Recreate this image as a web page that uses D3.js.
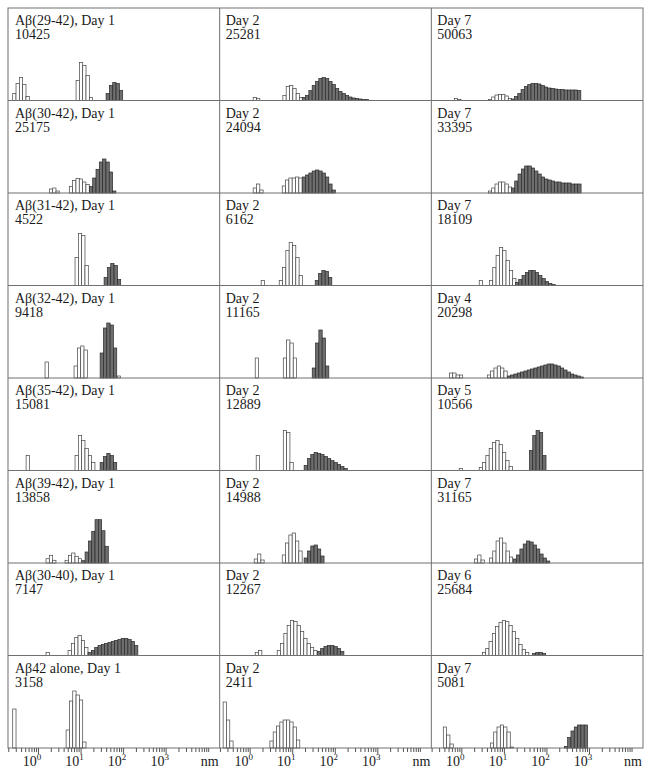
<!DOCTYPE html>
<html>
<head>
<meta charset="utf-8">
<script src="https://cdn.jsdelivr.net/npm/d3@7"></script>
<style>
body { margin: 0; background: #fff; }
svg text { font-family: "Liberation Serif", "Times New Roman", serif; fill: #1a1a1a; }
</style>
</head>
<body>
<div id="chart"></div>
<script>
// row names (first column only)
var peptides = ["Aβ(29-42)", "Aβ(30-42)", "Aβ(31-42)", "Aβ(32-42)", "Aβ(35-42)", "Aβ(39-42)", "Aβ(30-40)", "Aβ42 alone"];
var days = [[1, 2, 7], [1, 2, 7], [1, 2, 7], [1, 2, 4], [1, 2, 5], [1, 2, 7], [1, 2, 6], [1, 2, 7]];
var counts = [
	[10425, 25281, 50063],
	[25175, 24094, 33395],
	[4522, 6162, 18109],
	[9418, 11165, 20298],
	[15081, 12889, 10566],
	[13858, 14988, 31165],
	[7147, 12267, 25684],
	[3158, 2411, 5081]
];

// open bars, per panel: [log10 of first bin edge (nm), heights]
var lightBars = [
	[[[-0.595, [7, 17, 23, 16, 4]], [0.894, [20, 38, 35, 25, 3]]],
	 [[0.082, [3, 2]], [0.78, [5, 14, 15, 12, 7, 3]]],
	 [[-0.165, [2, 1]], [0.635, [1, 3.5, 5.5, 6, 6, 4.5, 2]]]],
	[[[0.266, [4, 5, 2]], [0.736, [6.5, 12.5, 14.5, 14, 11, 8.5]]],
	 [[0.082, [5, 9, 3]], [0.765, [7, 13, 15, 15, 16, 15]]],
	 [[0.635, [2, 5, 9, 11, 11, 9, 6]]]],
	[[[0.87, [28, 52, 50, 20]]],
	 [[0.27, [5]], [0.694, [5, 18, 35, 43, 40, 28, 10]]],
	 [[0.42, [5]], [0.66, [5, 18, 30, 38, 35, 25, 15, 7]]]],
	[[[0.165, [16]], [0.847, [12, 30, 32, 28]], [1.86, [2]]],
	 [[0.13, [20]], [0.79, [20, 38, 35, 20]]],
	 [[-0.28, [5, 5, 3, 3]], [0.61, [3, 7, 10, 12, 10, 7]]]],
	[[[-0.28, [15]], [0.87, [15, 35, 30, 22, 15, 8]]],
	 [[0.153, [15]], [0.79, [40, 38, 8]]],
	 [[-0.05, [2]], [0.42, [3, 8, 15, 22, 28, 30, 26, 18, 10, 4]]]],
	[[[0.188, [4.3, 7.7, 2.7]], [0.635, [2.7, 7.7, 10, 6.7, 4.3]]],
	 [[0.106, [4, 9, 3]], [0.765, [8, 20, 28, 30, 22, 12]]],
	 [[0.306, [4, 8, 3]], [0.66, [5, 12, 22, 25, 20, 12, 6]]]],
	[[[0.188, [3]], [0.706, [5, 12, 18, 20, 15, 8]]],
	 [[0.13, [3, 5]], [0.647, [5, 12, 22, 30, 35, 34, 30, 24, 17, 12, 8, 5]]],
	 [[0.494, [3, 7, 14, 22, 29, 33, 35, 34, 30, 24, 17, 11, 6, 3]]]],
	[[[-0.595, [39]], [0.66, [18, 47, 57, 53, 48, 6]]],
	 [[-0.624, [46, 28, 7]], [0.475, [7, 16, 22, 26, 28, 28, 26, 21, 8]]],
	 [[-0.424, [21, 13, 4]], [0.682, [5, 16, 21, 23, 21, 16, 1]]]]
];

// filled bars, same layout
var darkBars = [
	[[[1.6, [7, 15, 18, 17, 10]]],
	 [[1.235, [3, 5, 10, 15, 19, 22, 23, 22, 19, 16, 12, 9, 7, 5, 3.5, 2.5, 2, 1.5, 1, 1]]],
	 [[1.17, [1.5, 4, 7, 11, 14, 16, 17, 17, 16.5, 15, 13.5, 12.5, 12, 11.5, 11, 11, 10.5, 10.5, 10.5, 10.5, 10]]]],
	[[[1.207, [6.5, 15, 23.5, 31, 34, 31, 21, 2]]],
	 [[1.235, [16, 18, 20, 22, 23, 22, 20, 16, 9, 3]]],
	 [[1.176, [5, 12, 19, 24, 27, 27, 25, 22, 19, 16, 14, 13, 12, 11, 11, 10, 10, 10, 9, 9, 9]]]],
	[[[1.553, [8, 18, 22, 20, 6]]],
	 [[1.54, [5, 12, 15, 14, 8]]],
	 [[1.27, [3, 6, 10, 13, 15, 15, 13, 10, 7, 4, 2, 1]]]],
	[[[1.46, [25, 50, 55, 53, 30]]],
	 [[1.47, [10, 35, 48, 40, 12]]],
	 [[1.08, [2, 3, 4, 5, 6, 7, 8, 9, 10, 11, 12, 13, 14, 14, 13, 12, 10, 8, 6, 4, 3, 2, 1]]]],
	[[[1.46, [8, 14, 17, 15, 8]]],
	 [[1.28, [5, 12, 16, 18, 17, 16, 14, 12, 10, 8, 6, 4, 2]]],
	 [[1.6, [20, 35, 40, 38, 15]]]],
	[[[1.028, [2.3, 11, 22, 31.7, 43.3, 43.3, 32.3, 16.7]]],
	 [[1.28, [5, 12, 17, 18, 14, 7]]],
	 [[1.22, [4, 8, 14, 19, 22, 21, 18, 14, 9, 5, 2]]]],
	[[[1.176, [3, 5, 8, 10, 11, 12, 13, 14, 15, 16, 17, 17, 16, 14, 10]]],
	 [[1.59, [4, 7, 9, 10, 10, 9, 7, 4]]],
	 [[1.67, [2, 3, 3, 2]]]],
	[[],
	 [],
	 [[2.42, [1.5, 10.5, 17, 21, 23, 23, 23]]]]
];

var tickDecades = [1, 10, 100, 1000];
var binWidth = 0.078; // log10 nm per bar

var width = 649, height = 770;
var padL = 8, padR = 643, padT = 8, padB = 748;
var nRows = peptides.length, nCols = 3;
var colW = (padR - padL) / nCols;
var rowH = (padB - padT) / nRows;

var svg = d3.select("#chart")
	.append("svg")
	.attr("width", width)
	.attr("height", height);

var x = d3.scaleLog().domain([0.197, 18600]).range([0, colW]);
var y = d3.scaleLinear().domain([0, 92.5]).range([rowH, 0]);

function drawBars(g, clusters, fill, stroke) {
	var bars = [];
	clusters.forEach(function(cl) {
		cl[1].forEach(function(h, i) {
			bars.push({ a: Math.pow(10, cl[0] + i * binWidth), b: Math.pow(10, cl[0] + (i + 1) * binWidth), h: h });
		});
	});
	g.append("g").selectAll("rect")
		.data(bars)
		.enter()
		.append("rect")
		.attr("x", function(d) { return x(d.a); })
		.attr("y", function(d) { return y(d.h); })
		.attr("width", function(d) { return x(d.b) - x(d.a); })
		.attr("height", function(d) { return y(0) - y(d.h); })
		.attr("fill", fill)
		.attr("stroke", stroke)
		.attr("stroke-width", 0.7);
}

//panels
for (var r = 0; r < nRows; r++) {
	for (var c = 0; c < nCols; c++) {
		var g = svg.append("g")
			.attr("transform", "translate(" + (padL + c * colW) + "," + (padT + r * rowH) + ")");

		var title = (c == 0 ? peptides[r] + ", " : "") + "Day " + days[r][c];
		var tx = c == 0 ? 7 : 6;
		var label = g.append("text").attr("font-size", 14);
		label.append("tspan").attr("x", tx).attr("y", 17).text(title);
		label.append("tspan").attr("x", tx).attr("y", 31).text(counts[r][c]);

		drawBars(g, lightBars[r][c], "#fff", "#444");
		drawBars(g, darkBars[r][c], "#6e6e6e", "#2a2a2a");
	}
}

//frame lines
var frame = svg.append("g").attr("stroke", "#707070").attr("stroke-width", 1).attr("fill", "none");
frame.append("rect").attr("x", padL).attr("y", padT).attr("width", padR - padL).attr("height", padB - padT);
for (var i = 1; i < nCols; i++) {
	frame.append("line").attr("x1", padL + i * colW).attr("x2", padL + i * colW).attr("y1", padT).attr("y2", padB);
}
for (var j = 1; j < nRows; j++) {
	frame.append("line").attr("x1", padL).attr("x2", padR).attr("y1", padT + j * rowH).attr("y2", padT + j * rowH);
}

//bottom axes
var minorTicks = [];
[0.1, 1, 10, 100, 1000].forEach(function(dec) {
	for (var k = 1; k <= 9; k++) {
		if (k * dec >= 0.2) minorTicks.push(k * dec);
	}
});
minorTicks.push(10000);

for (var c = 0; c < nCols; c++) {
	var ax = svg.append("g")
		.attr("transform", "translate(" + (padL + c * colW) + "," + padB + ")");

	ax.call(d3.axisBottom(x).tickValues(minorTicks).tickSize(4).tickSizeOuter(0).tickFormat(""));
	ax.select(".domain").remove();
	ax.selectAll(".tick line")
		.attr("stroke", "#555")
		.attr("y2", function(d) { return tickDecades.indexOf(d) >= 0 ? 6 : 4; });

	tickDecades.forEach(function(d, i) {
		var t = ax.append("text")
			.attr("x", x(d) - 6)
			.attr("y", 18)
			.attr("font-size", 14);
		t.append("tspan").text("10");
		t.append("tspan").attr("dy", -6).attr("font-size", 9).text(i);
	});

	ax.append("text").attr("x", colW - 10).attr("y", 18).attr("font-size", 14).text("nm");
}
</script>
</body>
</html>
